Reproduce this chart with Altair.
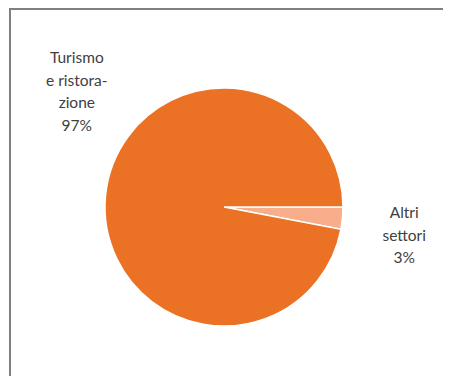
import altair as alt
import pandas as pd
import math

categories = ["Altri settori", "Turismo e ristorazione"]
labels = ["Altri\nsettori\n3%", "Turismo\ne ristora-\nzione\n97%"]
values = [3, 97]
order = [0, 1]
colors = ["#F8AE8A", "#EB7125"]

df = pd.DataFrame({"cat": categories, "label": labels, "value": values, "ord": order})

theta_scale = alt.Scale(range=[math.pi / 2, math.pi / 2 + 2 * math.pi])
CX, CY = 216, 199

base = alt.Chart(df).encode(
    theta=alt.Theta("value:Q", stack=True, scale=theta_scale),
    order=alt.Order("ord:Q"),
    x=alt.value(CX),
    y=alt.value(CY),
)

pie = base.mark_arc(outerRadius=119, stroke="white", strokeWidth=1.5).encode(
    color=alt.Color("cat:N", scale=alt.Scale(domain=categories, range=colors), legend=None)
)

def label_layer(cat, dx, dy):
    return base.transform_filter(alt.datum.cat == cat).mark_text(
        radius=183, lineBreak="\n", lineHeight=22.5, fontSize=15.5,
        font="Lato", color="#404040", align="center", baseline="middle",
        dx=dx, dy=dy,
    ).encode(text="label:N")

t1 = label_layer("Altri settori", -2, -11)
t2 = label_layer("Turismo e ristorazione", 35, -166)

frame_left = alt.Chart(df).mark_rule(color="#808080", strokeWidth=2).encode(
    x=alt.value(2), y=alt.value(0), y2=alt.value(368)
)
frame_top = alt.Chart(df).mark_rule(color="#808080", strokeWidth=2).encode(
    x=alt.value(1), x2=alt.value(435), y=alt.value(1)
)

chart = alt.layer(pie, t1, t2, frame_left, frame_top).properties(
    width=435, height=368, padding=0,
    autosize=alt.AutoSizeParams(type="none"),
).configure_view(strokeWidth=0, stroke="transparent")

chart.save("out.html", embed_options={"renderer": "svg", "actions": False})
